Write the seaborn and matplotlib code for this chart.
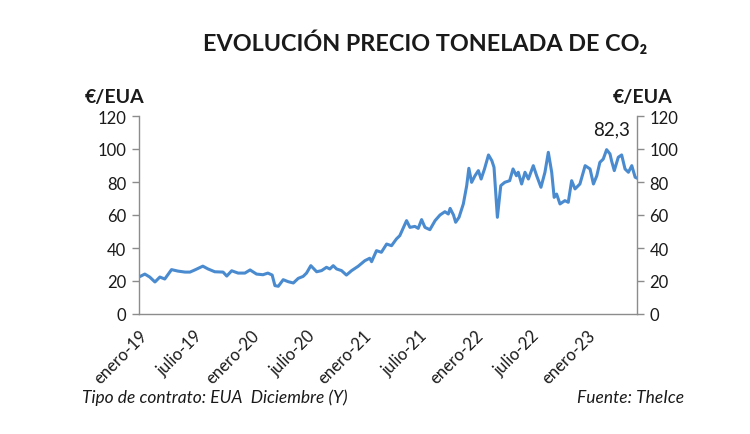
import numpy as np
import pandas as pd
import matplotlib
matplotlib.use("Agg")
import matplotlib.pyplot as plt
import seaborn as sns

# ---- data ----
fechas = [
    "2019-01-03", "2019-01-20", "2019-02-05", "2019-02-22", "2019-03-10", "2019-03-26",
    "2019-04-17", "2019-05-08", "2019-05-31", "2019-06-16", "2019-07-02", "2019-07-28",
    "2019-08-14", "2019-09-05", "2019-10-02", "2019-10-14", "2019-10-30", "2019-11-20",
    "2019-12-12", "2019-12-29", "2020-01-19", "2020-02-09", "2020-02-25", "2020-03-10",
    "2020-03-19", "2020-03-30", "2020-04-15", "2020-05-01", "2020-05-18", "2020-06-03",
    "2020-06-19", "2020-06-30", "2020-07-14", "2020-08-02", "2020-08-18", "2020-09-03",
    "2020-09-14", "2020-09-25", "2020-10-06", "2020-10-22", "2020-11-07", "2020-11-24",
    "2020-12-15", "2021-01-06", "2021-01-22", "2021-01-28", "2021-02-13", "2021-03-01",
    "2021-03-18", "2021-04-03", "2021-04-19", "2021-04-30", "2021-05-22", "2021-06-02",
    "2021-06-18", "2021-06-29", "2021-07-10", "2021-07-21", "2021-08-06", "2021-08-23",
    "2021-09-08", "2021-09-24", "2021-10-05", "2021-10-11", "2021-10-22", "2021-10-29",
    "2021-11-09", "2021-11-23", "2021-12-04", "2021-12-11", "2021-12-20", "2021-12-31",
    "2022-01-11", "2022-01-20", "2022-01-31", "2022-02-13", "2022-02-24", "2022-03-03",
    "2022-03-14", "2022-03-25", "2022-04-07", "2022-04-23", "2022-05-04", "2022-05-15",
    "2022-05-21", "2022-06-01", "2022-06-12", "2022-06-23", "2022-07-09", "2022-07-20",
    "2022-08-03", "2022-08-16", "2022-08-27", "2022-09-07", "2022-09-15", "2022-09-23",
    "2022-10-04", "2022-10-20", "2022-10-31", "2022-11-11", "2022-11-22", "2022-12-08",
    "2022-12-25", "2023-01-10", "2023-01-21", "2023-02-01", "2023-02-11", "2023-02-22",
    "2023-03-05", "2023-03-16", "2023-03-21", "2023-03-30", "2023-04-12", "2023-04-23",
    "2023-05-04", "2023-05-15", "2023-05-26", "2023-06-06", "2023-06-12",
]
precios = [
    22.6, 24.2, 22.4, 19.4, 22.4, 21.2,
    26.9, 26.0, 25.4, 25.4, 26.7, 29.0,
    27.3, 25.6, 25.4, 23.0, 26.2, 24.8,
    24.8, 26.7, 24.2, 23.8, 24.8, 23.6,
    17.2, 16.8, 20.8, 19.6, 18.8, 21.6,
    22.8, 24.8, 29.3, 25.6, 26.3, 28.3,
    27.3, 29.3, 27.3, 26.3, 23.6, 26.3,
    28.9, 32.3, 33.8, 31.7, 38.4, 37.4,
    42.4, 41.4, 45.5, 47.5, 56.6, 52.5,
    53.1, 51.9, 57.2, 52.5, 51.1, 56.6,
    60.0, 62.0, 60.6, 64.0, 60.0, 55.6,
    58.6, 66.7, 77.8, 88.3, 79.8, 83.8,
    86.9, 81.8, 87.9, 96.4, 92.9, 88.9,
    58.6, 77.8, 79.8, 80.8, 87.9, 83.8,
    85.9, 78.8, 85.9, 81.8, 89.9, 83.8,
    76.8, 85.9, 98.0, 85.9, 70.7, 72.7,
    66.7, 68.7, 67.7, 80.8, 75.8, 78.8,
    89.9, 87.9, 78.8, 83.8, 91.9, 93.9,
    99.6, 97.0, 92.9, 86.9, 95.0, 96.4,
    87.9, 85.9, 89.9, 82.9, 82.3,
]
tick_fechas = ["2019-01-01", "2019-07-01", "2020-01-01", "2020-07-01", "2021-01-01",
               "2021-07-01", "2022-01-01", "2022-07-01", "2023-01-01"]
tick_etiquetas = ["enero-19", "julio-19", "enero-20", "julio-20", "enero-21",
                  "julio-21", "enero-22", "julio-22", "enero-23"]
y_ticks = [0, 20, 40, 60, 80, 100, 120]
ultimo_valor = "82,3"

df = pd.DataFrame({"fecha": pd.to_datetime(fechas), "precio": precios})

sns.set_theme(style="white")
plt.rcParams["font.family"] = ["Lato", "DejaVu Sans"]

LINE = "#4A8BD0"
SPINE = "#8C8C8C"
TXT = "#1a1a1a"

fig = plt.figure(figsize=(7.5, 4.35), dpi=100)
ax = fig.add_axes([139 / 750, 1 - 315 / 435, (637 - 139) / 750, (315 - 117) / 435])

sns.lineplot(data=df, x="fecha", y="precio", ax=ax, color=LINE, linewidth=2.2)

ax.set_xlim(pd.Timestamp("2019-01-01"), pd.Timestamp("2023-06-12"))
ax.set_ylim(0, 120)
ax.set_xlabel("")
ax.set_ylabel("")
ax.set_xticks(pd.to_datetime(tick_fechas))
ax.set_xticklabels(tick_etiquetas, rotation=45, ha="right", va="top",
                   rotation_mode="anchor", fontsize=12, color=TXT)
ax.set_yticks(y_ticks)
ax.set_yticklabels([str(v) for v in y_ticks], fontsize=12, color=TXT)
ax.tick_params(axis="both", direction="out", length=5, width=1, color=SPINE)
ax.tick_params(axis="x", pad=4)
ax.tick_params(axis="y", pad=4)

ax2 = ax.twinx()
ax2.set_ylim(0, 120)
ax2.set_yticks(y_ticks)
ax2.set_yticklabels([str(v) for v in y_ticks], fontsize=12, color=TXT)
ax2.tick_params(axis="y", direction="out", length=5, width=1, color=SPINE, pad=4)

for a in (ax, ax2):
    a.spines["top"].set_visible(False)
    for s in ("left", "right", "bottom"):
        a.spines[s].set_color(SPINE)
        a.spines[s].set_linewidth(1)
    a.grid(False)
ax.spines["right"].set_visible(False)
ax2.spines["left"].set_visible(False)
ax2.spines["bottom"].set_visible(False)

fig.text(425 / 750, 1 - 43 / 435, "EVOLUCIÓN PRECIO TONELADA DE CO₂", ha="center", va="center",
         fontsize=16.8, fontweight="bold", color=TXT)
fig.text(115 / 750, 1 - 97 / 435, "€/EUA", ha="center", va="center",
         fontsize=14, fontweight="bold", color=TXT)
fig.text(643 / 750, 1 - 97 / 435, "€/EUA", ha="center", va="center",
         fontsize=14, fontweight="bold", color=TXT)
fig.text(612 / 750, 1 - 130 / 435, ultimo_valor, ha="center", va="center",
         fontsize=13.5, color=TXT)
fig.text(82 / 750, 1 - 398 / 435, "Tipo de contrato: EUA  Diciembre (Y)", ha="left", va="center",
         fontsize=12.5, fontstyle="italic", color=TXT)
fig.text(684 / 750, 1 - 398 / 435, "Fuente: TheIce", ha="right", va="center",
         fontsize=12.5, fontstyle="italic", color=TXT)

fig.savefig("out.png", dpi=100, facecolor="white")
